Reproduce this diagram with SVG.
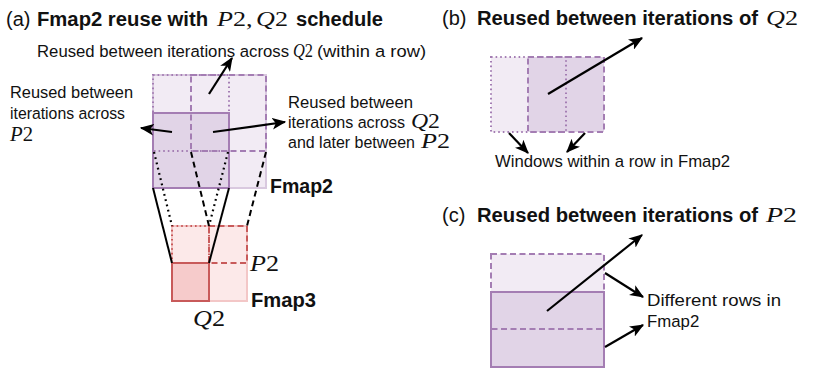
<svg xmlns="http://www.w3.org/2000/svg" width="814" height="372" viewBox="0 0 814 372">
<style>
.reg{font-family:"Liberation Sans",Arial,sans-serif;font-size:16.8px;fill:#111}
.bold{font-family:"Liberation Sans",Arial,sans-serif;font-weight:bold;font-size:20px;fill:#111}
.ttl{font-family:"Liberation Sans",Arial,sans-serif;font-size:20px;fill:#111}
.math{font-family:"Liberation Serif","Times New Roman",serif;fill:#111}
.mi{font-style:italic}
.pLight{fill:#f2ebf4}
.pMid{fill:#e1d4e7}
.pSolid{fill:none;stroke:#a47db3;stroke-width:2}
.pDash{fill:none;stroke:#a47db3;stroke-width:2;stroke-dasharray:6 3.5}
.pDot{fill:none;stroke:#a47db3;stroke-width:2;stroke-dasharray:1.6 3}
.pEdge{fill:#f2ebf4;stroke:#d9c9df;stroke-width:2}
.rEdge{fill:#fce9e9;stroke:#f3c7c7;stroke-width:2}
.rSolid{fill:#f6cbcb;stroke:#c85a5a;stroke-width:2}
.rDash{fill:none;stroke:#c85a5a;stroke-width:2;stroke-dasharray:6 3.5}
.rDot{fill:none;stroke:#c85a5a;stroke-width:2;stroke-dasharray:1.6 3}
.arr{fill:none;stroke:#000;stroke-width:2.2;marker-end:url(#ah)}
.prj{fill:none;stroke:#000;stroke-width:2}
.prjDash{fill:none;stroke:#000;stroke-width:2;stroke-dasharray:6 4}
.prjDot{fill:none;stroke:#000;stroke-width:2.2;stroke-dasharray:1.8 3.6}
</style>
<defs>
<marker id="ah" viewBox="0 0 12 10" refX="11" refY="5" markerWidth="14" markerHeight="12" markerUnits="userSpaceOnUse" orient="auto">
<path d="M0,0 L12,5 L0,10 L3,5 z" fill="#000"/>
</marker>
</defs>
<rect width="814" height="372" fill="#fff"/>

<!-- Titles -->
<g id="title-a">
<text class="ttl" x="6" y="26">(a)</text>
<text class="bold" x="37" y="26" textLength="171" lengthAdjust="spacingAndGlyphs">Fmap2 reuse with</text>
<text class="math" x="217" y="26" font-size="22" textLength="71" lengthAdjust="spacingAndGlyphs"><tspan class="mi">P</tspan>2,<tspan class="mi" dx="3">Q</tspan>2</text>
<text class="bold" x="296" y="26" textLength="87" lengthAdjust="spacingAndGlyphs">schedule</text>
</g>
<g id="title-b">
<text class="ttl" x="442" y="25">(b)</text>
<text class="bold" x="477" y="25" textLength="281" lengthAdjust="spacingAndGlyphs">Reused between iterations of</text>
<text class="math" x="766" y="25" font-size="22" textLength="32" lengthAdjust="spacingAndGlyphs"><tspan class="mi">Q</tspan>2</text>
</g>
<g id="title-c">
<text class="ttl" x="442" y="222">(c)</text>
<text class="bold" x="477" y="222" textLength="281" lengthAdjust="spacingAndGlyphs">Reused between iterations of</text>
<text class="math" x="766" y="222" font-size="22" textLength="31" lengthAdjust="spacingAndGlyphs"><tspan class="mi">P</tspan>2</text>
</g>

<!-- (a) Fmap2 -->
<g id="fmap2">
<rect class="pEdge" x="153" y="75" width="113" height="113"/>
<rect class="pMid" x="153" y="113" width="76" height="75"/>
<rect class="pDot" x="153" y="75" width="76" height="76"/>
<rect class="pDash" x="191" y="75" width="75" height="76"/>
<rect class="pSolid" x="153" y="113" width="76" height="75"/>
<text class="bold" x="270" y="193" font-size="19" textLength="63" lengthAdjust="spacingAndGlyphs">Fmap2</text>
</g>

<!-- (a) Fmap3 -->
<g id="fmap3">
<rect class="rEdge" x="172" y="226" width="75" height="75"/>
<rect class="rDot" x="172" y="226" width="37" height="37"/>
<rect class="rDash" x="209" y="226" width="38" height="37"/>
<rect class="rSolid" x="172" y="263" width="37" height="38"/>
<text class="bold" x="251" y="307" font-size="19" textLength="65" lengthAdjust="spacingAndGlyphs">Fmap3</text>
<text class="math" x="250" y="271" font-size="23" textLength="29" lengthAdjust="spacingAndGlyphs"><tspan class="mi">P</tspan>2</text>
<text class="math" x="193" y="326" font-size="23" textLength="32" lengthAdjust="spacingAndGlyphs"><tspan class="mi">Q</tspan>2</text>
</g>

<!-- (b) -->
<g id="windows-b">
<rect class="pLight" x="491" y="57" width="75" height="75"/>
<rect class="pMid" x="528" y="57" width="76" height="75"/>
<rect class="pDot" x="491" y="57" width="75" height="75"/>
<rect class="pDash" x="528" y="57" width="76" height="75"/>
</g>

<!-- (c) -->
<g id="rows-c">
<rect class="pLight" x="491" y="254" width="113" height="75"/>
<rect class="pMid" x="491" y="292" width="113" height="75"/>
<rect class="pSolid" x="491" y="292" width="113" height="75"/>
<rect class="pDash" x="491" y="254" width="113" height="75"/>
</g>

<!-- Labels -->
<g id="label-q2-row">
<text class="reg" x="37" y="57" textLength="252" lengthAdjust="spacingAndGlyphs">Reused between iterations across</text>
<text class="math" x="293" y="57" font-size="18" textLength="20" lengthAdjust="spacingAndGlyphs"><tspan class="mi">Q</tspan>2</text>
<text class="reg" x="317" y="57" textLength="109" lengthAdjust="spacingAndGlyphs">(within a row)</text>
</g>
<g id="label-p2-left">
<text class="reg" x="10" y="98" textLength="123" lengthAdjust="spacingAndGlyphs">Reused between</text>
<text class="reg" x="10" y="119" textLength="115" lengthAdjust="spacingAndGlyphs">iterations across</text>
<text class="math" x="10" y="141" font-size="20" textLength="23" lengthAdjust="spacingAndGlyphs"><tspan class="mi">P</tspan>2</text>
</g>
<g id="label-right">
<text class="reg" x="288" y="108" textLength="125" lengthAdjust="spacingAndGlyphs">Reused between</text>
<text class="reg" x="288" y="128" textLength="117" lengthAdjust="spacingAndGlyphs">iterations across</text>
<text class="math" x="411" y="128" font-size="21" textLength="29" lengthAdjust="spacingAndGlyphs"><tspan class="mi">Q</tspan>2</text>
<text class="reg" x="288" y="148" textLength="127" lengthAdjust="spacingAndGlyphs">and later between</text>
<text class="math" x="421" y="148" font-size="21" textLength="29" lengthAdjust="spacingAndGlyphs"><tspan class="mi">P</tspan>2</text>
</g>
<g id="label-b">
<text class="reg" x="495" y="167" textLength="235" lengthAdjust="spacingAndGlyphs">Windows within a row in Fmap2</text>
</g>
<g id="label-c">
<text class="reg" x="647" y="306" textLength="134" lengthAdjust="spacingAndGlyphs">Different rows in</text>
<text class="reg" x="647" y="327">Fmap2</text>
</g>

<!-- Connectors -->
<g id="connectors">
<line class="prj" x1="153" y1="188" x2="172" y2="263"/>
<line class="prj" x1="229" y1="188" x2="209" y2="263"/>
<line class="prjDot" x1="154" y1="152" x2="172" y2="226"/>
<line class="prjDot" x1="228" y1="152" x2="209" y2="226"/>
<line class="prjDash" x1="191" y1="152" x2="209" y2="226"/>
<line class="prjDash" x1="266" y1="152" x2="247" y2="226"/>
<line class="arr" x1="209" y1="94" x2="232" y2="58"/>
<line class="arr" x1="172" y1="132" x2="141" y2="128"/>
<line class="arr" x1="213" y1="132" x2="285" y2="122"/>
<line class="arr" x1="548" y1="94" x2="642" y2="38"/>
<line class="arr" x1="509" y1="133" x2="528" y2="153"/>
<line class="arr" x1="585" y1="133" x2="567" y2="152"/>
<line class="arr" x1="547" y1="311" x2="642" y2="235"/>
<line class="arr" x1="605" y1="273" x2="643" y2="297"/>
<line class="arr" x1="605" y1="347" x2="643" y2="325"/>
</g>
</svg>
